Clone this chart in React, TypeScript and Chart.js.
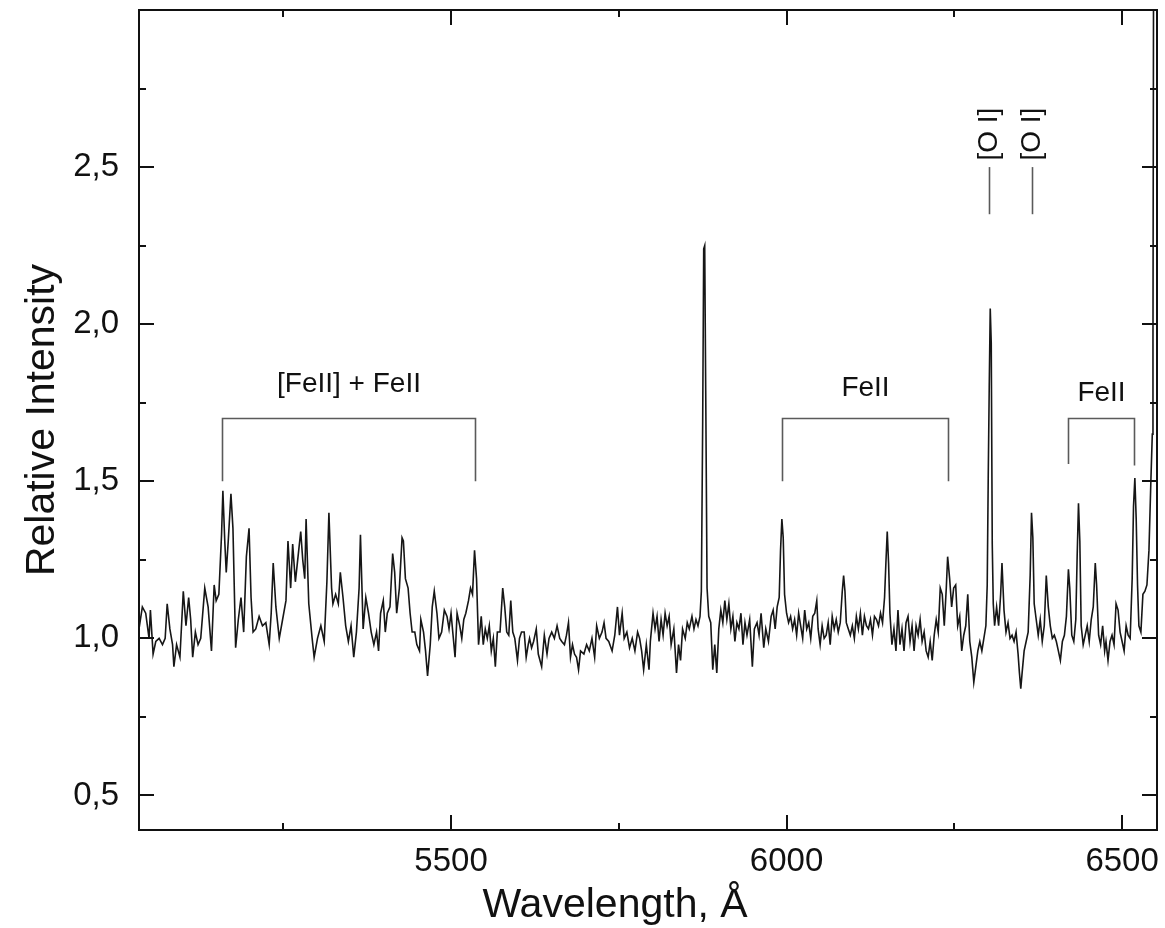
import { useEffect, useRef } from "react";
import { Chart, registerables } from "chart.js";

Chart.register(...registerables);

const FONT = '"Liberation Sans", Arial, Helvetica, sans-serif';

// Spectrum: wavelength (Å) and relative intensity
const WAVELENGTH = [
  5035, 5040, 5045, 5050, 5052, 5056, 5060, 5065, 5070, 5074,
  5077, 5081, 5085, 5087, 5091, 5096, 5101, 5105, 5109, 5112,
  5115, 5119, 5123, 5127, 5133, 5138, 5143, 5147, 5150, 5154,
  5158, 5160, 5163, 5165, 5168, 5172, 5175, 5179, 5183, 5187,
  5191, 5195, 5199, 5202, 5205, 5209, 5214, 5219, 5224, 5229,
  5232, 5235, 5239, 5244, 5249, 5254, 5257, 5261, 5264, 5268,
  5273, 5276, 5279, 5282, 5284, 5288, 5293, 5296, 5301, 5306,
  5311, 5315, 5318, 5322, 5324, 5328, 5332, 5335, 5339, 5343,
  5347, 5351, 5355, 5359, 5363, 5365, 5369, 5373, 5377, 5381,
  5385, 5389, 5392, 5395, 5399, 5402, 5405, 5409, 5413, 5416,
  5419, 5423, 5427, 5429, 5432, 5436, 5439, 5442, 5446, 5449,
  5453, 5455, 5459, 5462, 5465, 5469, 5472, 5475, 5479, 5482,
  5486, 5490, 5494, 5497, 5500, 5503, 5506, 5509, 5513, 5516,
  5519, 5522, 5526, 5529, 5532, 5535, 5538, 5541, 5545, 5548,
  5551, 5554, 5557, 5560, 5563, 5566, 5569, 5573, 5577, 5580,
  5583, 5586, 5589, 5592, 5595, 5599, 5602, 5605, 5609, 5612,
  5615, 5617, 5620, 5623, 5627, 5630, 5635, 5639, 5643, 5646,
  5650, 5654, 5658, 5662, 5665, 5669, 5672, 5675, 5678, 5681,
  5684, 5687, 5690, 5693, 5698, 5702, 5706, 5710, 5714, 5717,
  5721, 5725, 5728, 5731, 5735, 5740, 5744, 5748, 5751, 5755,
  5758, 5762, 5766, 5770, 5774, 5778, 5781, 5784, 5787, 5791,
  5795, 5797, 5801, 5804, 5807, 5810, 5813, 5816, 5819, 5822,
  5825, 5828, 5832, 5836, 5839, 5842, 5845, 5849, 5852, 5855,
  5859, 5862, 5865, 5868, 5871, 5873, 5875, 5876.5, 5878, 5879.5,
  5881.5, 5884, 5887, 5890, 5893, 5896, 5899, 5902, 5905, 5908,
  5911, 5914, 5917, 5920, 5923, 5926, 5929, 5932, 5935, 5938,
  5941, 5945, 5949, 5952, 5956, 5959, 5962, 5966, 5969, 5973,
  5977, 5980, 5983, 5986, 5989, 5991, 5993, 5995, 5997, 6000,
  6003, 6006, 6009, 6012, 6015, 6018, 6021, 6024, 6027, 6030,
  6033, 6036, 6039, 6042, 6045, 6047, 6050, 6053, 6056, 6059,
  6062, 6065, 6068, 6071, 6074, 6077, 6080, 6083, 6085, 6087,
  6089, 6092, 6095, 6098, 6101, 6104, 6107, 6110, 6113, 6116,
  6119, 6122, 6125, 6128, 6131, 6134, 6137, 6140, 6143, 6146,
  6148, 6150, 6152, 6154, 6157, 6160, 6163, 6166, 6169, 6172,
  6175, 6178, 6181, 6184, 6187, 6190, 6193, 6196, 6199, 6202,
  6205, 6208, 6211, 6214, 6217, 6220, 6223, 6226, 6229, 6232,
  6235, 6238, 6240, 6243, 6246, 6249, 6252, 6255, 6258, 6261,
  6264, 6267, 6270, 6273, 6276, 6279, 6282, 6285, 6288, 6291,
  6294, 6297, 6299, 6300.5, 6302, 6303.5, 6305, 6306.5, 6308, 6310,
  6313, 6316, 6319, 6321, 6324, 6327, 6330, 6333, 6336, 6339,
  6342, 6345, 6347, 6349, 6351, 6354, 6357, 6360, 6363, 6365,
  6367, 6369, 6372, 6375, 6378, 6381, 6384, 6387, 6390, 6393,
  6396, 6399, 6402, 6405, 6408, 6411, 6414, 6417, 6420, 6422,
  6425, 6428, 6431, 6433, 6435, 6437, 6439, 6442, 6445, 6448,
  6451, 6454, 6457, 6460, 6462, 6465, 6468, 6471, 6474, 6476,
  6479, 6482, 6485, 6488, 6491, 6494, 6497, 6500, 6503, 6506,
  6509, 6512, 6515, 6517, 6519, 6521, 6523, 6525, 6528, 6531,
  6534, 6537, 6540, 6543, 6545, 6546, 6547, 6555,
];

const INTENSITY = [
  1.03, 1.10, 1.08, 1.00, 1.09, 0.95, 0.99, 1.00, 0.98, 1.00,
  1.11, 1.03, 0.98, 0.91, 0.98, 0.94, 1.15, 1.04, 1.13, 1.06,
  0.94, 1.02, 0.98, 1.00, 1.16, 1.10, 0.96, 1.17, 1.12, 1.14,
  1.33, 1.47, 1.30, 1.21, 1.31, 1.46, 1.35, 0.97, 1.06, 1.13,
  1.02, 1.26, 1.35, 1.13, 1.02, 1.03, 1.07, 1.04, 1.05, 0.98,
  1.08, 1.24, 1.10, 1.00, 1.06, 1.12, 1.31, 1.16, 1.30, 1.18,
  1.28, 1.34, 1.25, 1.19, 1.38, 1.11, 1.00, 0.94, 1.00, 1.04,
  0.99, 1.18, 1.40, 1.16, 1.11, 1.14, 1.11, 1.21, 1.13, 1.04,
  0.99, 1.04, 0.94, 1.02, 1.16, 1.33, 1.03, 1.13, 1.08, 1.02,
  0.98, 1.02, 0.96, 1.08, 1.12, 1.02, 1.08, 1.10, 1.27, 1.21,
  1.08, 1.16, 1.32, 1.31, 1.19, 1.16, 1.08, 1.02, 1.02, 0.98,
  0.96, 1.06, 1.02, 0.96, 0.88, 0.98, 1.10, 1.15, 1.08, 1.00,
  1.02, 1.09, 1.07, 1.03, 1.08, 1.01, 0.94, 1.08, 1.04, 1.00,
  1.06, 1.08, 1.12, 1.16, 1.14, 1.28, 1.19, 0.98, 1.07, 0.98,
  1.03, 1.00, 1.04, 0.96, 1.00, 0.91, 1.02, 1.02, 1.16, 1.10,
  1.02, 1.01, 1.12, 1.02, 1.00, 0.93, 1.00, 1.02, 1.02, 0.94,
  0.98, 1.00, 0.97, 0.99, 1.03, 0.95, 0.91, 1.01, 0.95, 1.00,
  1.02, 1.00, 1.04, 1.00, 0.99, 0.98, 1.01, 1.05, 0.94, 0.98,
  0.95, 0.94, 0.90, 0.96, 0.95, 0.98, 0.96, 1.00, 0.94, 1.04,
  1.00, 1.02, 1.05, 1.00, 0.99, 0.96, 1.01, 1.10, 1.01, 1.08,
  1.00, 1.02, 0.97, 1.00, 0.96, 1.02, 1.00, 0.96, 0.90, 0.98,
  0.90, 0.99, 1.08, 1.03, 1.07, 0.99, 1.06, 1.01, 1.08, 1.04,
  1.07, 0.98, 1.03, 0.89, 0.98, 0.93, 1.03, 1.00, 1.05, 1.03,
  1.07, 1.03, 1.06, 1.04, 1.07, 1.15, 1.69, 2.24, 2.25, 1.79,
  1.16, 1.07, 1.05, 0.90, 0.98, 0.89, 1.03, 1.09, 1.05, 1.12,
  1.06, 1.11, 1.03, 1.07, 0.99, 1.05, 1.03, 1.08, 0.98, 1.05,
  1.01, 1.06, 0.91, 1.03, 1.05, 1.01, 1.08, 0.97, 1.03, 0.99,
  1.07, 1.09, 1.03, 1.10, 1.13, 1.28, 1.38, 1.32, 1.14, 1.08,
  1.05, 1.07, 1.03, 1.06, 1.01, 1.08, 1.04, 1.00, 1.09, 1.03,
  1.05, 1.00, 1.07, 1.08, 1.12, 1.03, 0.98, 1.04, 1.00, 1.01,
  1.05, 0.98, 1.07, 1.03, 1.06, 1.02, 1.05, 1.15, 1.20, 1.15,
  1.05, 1.03, 1.01, 1.04, 1.00, 1.07, 1.03, 1.08, 1.01, 1.07,
  1.04, 1.03, 1.06, 1.01, 1.07, 1.06, 1.04, 1.08, 1.05, 1.13,
  1.24, 1.34, 1.24, 1.08, 0.98, 1.03, 0.96, 1.09, 0.98, 1.03,
  0.96, 1.05, 1.07, 0.99, 1.04, 0.96, 1.04, 1.01, 1.06, 0.99,
  1.02, 0.96, 0.94, 0.99, 0.93, 1.01, 1.06, 1.02, 1.16, 1.14,
  1.04, 1.16, 1.26, 1.19, 1.10, 1.16, 1.17, 1.04, 1.07, 0.96,
  1.01, 1.04, 1.14, 0.99, 0.94, 0.86, 0.91, 0.96, 0.99, 0.96,
  1.00, 1.04, 1.17, 1.51, 1.80, 2.05, 1.94, 1.30, 1.11, 1.04,
  1.10, 1.04, 1.14, 1.24, 1.09, 1.02, 1.05, 1.00, 1.01, 0.99,
  1.02, 0.95, 0.89, 0.84, 0.89, 0.96, 0.99, 1.02, 1.20, 1.40,
  1.32, 1.11, 1.06, 1.01, 1.06, 0.99, 1.04, 1.20, 1.10, 1.04,
  1.00, 1.01, 0.99, 0.96, 0.93, 0.99, 1.01, 1.07, 1.22, 1.16,
  1.01, 0.99, 1.06, 1.26, 1.43, 1.31, 1.04, 0.98, 1.01, 1.04,
  0.99, 1.06, 1.10, 1.24, 1.17, 1.01, 0.98, 1.04, 0.96, 0.99,
  0.93, 0.99, 1.01, 0.98, 1.11, 1.09, 1.02, 0.99, 0.96, 1.04,
  1.01, 1.00, 1.19, 1.42, 1.51, 1.38, 1.17, 1.04, 1.02, 1.14,
  1.15, 1.17, 1.28, 1.51, 1.65, 1.94, 3.30, 3.60,
];

// Axes
const X_RANGE = [5035, 6552];
const Y_RANGE = [0.39, 3.0];
const X_MAJOR = [5500, 6000, 6500];
const X_MINOR = [5250, 5750, 6250];
const Y_MAJOR = [0.5, 1.0, 1.5, 2.0, 2.5];
const Y_MINOR = [0.75, 1.25, 1.75, 2.25, 2.75];
const X_TITLE = "Wavelength, Å";
const Y_TITLE = "Relative Intensity";

// Line-group brackets (data coordinates)
const BRACKET_LABELS = ["[FeII] + FeII", "FeII", "FeII"];
const BRACKET_START = [5159, 5993, 6419];
const BRACKET_END = [5536, 6240, 6517];
const BRACKET_TOP = [1.7, 1.7, 1.7];
const BRACKET_START_FOOT = [1.5, 1.5, 1.555];
const BRACKET_END_FOOT = [1.5, 1.5, 1.55];
const BRACKET_LABEL_BASE = [1.785, 1.77, 1.755];

// Single-line markers
const MARKER_LABELS = ["[O I]", "[O I]"];
const MARKER_WAVELENGTH = [6302, 6366];
const MARKER_TOP = 2.5;
const MARKER_BOTTOM = 2.35;
const MARKER_LABEL_CENTER = 2.605;

export default function App() {
  const ref = useRef<HTMLCanvasElement>(null);

  useEffect(() => {
    const canvas = ref.current;
    if (!canvas) return;

    const decorPlugin = {
      id: "decor",
      afterDatasetsDraw(chart: any) {
        const { ctx, chartArea: a, scales } = chart;
        const xs = scales.x;
        const ys = scales.y;
        ctx.save();

        // brackets
        ctx.strokeStyle = "#5a5a5a";
        ctx.lineWidth = 1.6;
        ctx.font = `28px ${FONT}`;
        ctx.fillStyle = "#111";
        ctx.textAlign = "center";
        ctx.textBaseline = "alphabetic";
        BRACKET_LABELS.forEach((lab, i) => {
          const x0 = Math.round(xs.getPixelForValue(BRACKET_START[i])) + 0.5;
          const x1 = Math.round(xs.getPixelForValue(BRACKET_END[i])) + 0.5;
          const yt = Math.round(ys.getPixelForValue(BRACKET_TOP[i])) + 0.5;
          ctx.beginPath();
          ctx.moveTo(x0, ys.getPixelForValue(BRACKET_START_FOOT[i]));
          ctx.lineTo(x0, yt);
          ctx.lineTo(x1, yt);
          ctx.lineTo(x1, ys.getPixelForValue(BRACKET_END_FOOT[i]));
          ctx.stroke();
          ctx.fillText(lab, (x0 + x1) / 2, ys.getPixelForValue(BRACKET_LABEL_BASE[i]));
        });

        // [O I] markers
        MARKER_LABELS.forEach((lab, i) => {
          const x = Math.round(xs.getPixelForValue(MARKER_WAVELENGTH[i])) + 0.5;
          ctx.beginPath();
          ctx.moveTo(x, ys.getPixelForValue(MARKER_TOP));
          ctx.lineTo(x, ys.getPixelForValue(MARKER_BOTTOM));
          ctx.stroke();
          ctx.save();
          ctx.translate(x, ys.getPixelForValue(MARKER_LABEL_CENTER));
          ctx.rotate(-Math.PI / 2);
          ctx.textAlign = "center";
          ctx.textBaseline = "middle";
          ctx.fillText(lab, 0, 0);
          ctx.restore();
        });

        // frame
        ctx.strokeStyle = "#111";
        ctx.lineWidth = 2;
        ctx.strokeRect(a.left, a.top, a.right - a.left, a.bottom - a.top);

        // inward ticks on all four sides
        ctx.beginPath();
        const xTicks = (vals: number[], len: number) => {
          vals.forEach((v) => {
            const x = Math.round(xs.getPixelForValue(v));
            ctx.moveTo(x, a.bottom);
            ctx.lineTo(x, a.bottom - len);
            ctx.moveTo(x, a.top);
            ctx.lineTo(x, a.top + len);
          });
        };
        const yTicks = (vals: number[], len: number) => {
          vals.forEach((v) => {
            const y = Math.round(ys.getPixelForValue(v));
            ctx.moveTo(a.left, y);
            ctx.lineTo(a.left + len, y);
            ctx.moveTo(a.right, y);
            ctx.lineTo(a.right - len, y);
          });
        };
        xTicks(X_MAJOR, 15);
        xTicks(X_MINOR, 7);
        yTicks(Y_MAJOR, 15);
        yTicks(Y_MINOR, 7);
        ctx.stroke();

        // x-axis title
        ctx.fillStyle = "#111";
        ctx.font = `41px ${FONT}`;
        ctx.textAlign = "center";
        ctx.textBaseline = "alphabetic";
        ctx.fillText(X_TITLE, (a.left + a.right) / 2 - 33, 917);

        ctx.restore();
      },
    };

    const chart = new Chart(canvas, {
      type: "line",
      data: {
        datasets: [
          {
            data: WAVELENGTH.map((w, i) => ({ x: w, y: INTENSITY[i] })),
            borderColor: "#161616",
            borderWidth: 1.6,
            pointRadius: 0,
            tension: 0,
            fill: false,
          },
        ],
      },
      options: {
        animation: false,
        responsive: false,
        devicePixelRatio: 1,
        layout: { padding: { top: 10, right: 8, left: 0, bottom: 0 } },
        plugins: {
          legend: { display: false },
          tooltip: { enabled: false },
        },
        scales: {
          x: {
            type: "linear",
            min: X_RANGE[0],
            max: X_RANGE[1],
            afterBuildTicks: (s: any) => {
              s.ticks = X_MAJOR.map((v) => ({ value: v }));
            },
            afterFit: (s: any) => {
              s.height = 98;
              s.paddingLeft = 0;
              s.paddingRight = 0;
              s.paddingTop = 0;
              s.paddingBottom = 0;
            },
            grid: { display: false, drawTicks: false },
            border: { display: false },
            ticks: {
              autoSkip: false,
              maxRotation: 0,
              padding: 12,
              color: "#111",
              font: { family: FONT, size: 33 },
              callback: (v: any) => String(v),
            },
          },
          y: {
            type: "linear",
            min: Y_RANGE[0],
            max: Y_RANGE[1],
            afterBuildTicks: (s: any) => {
              s.ticks = Y_MAJOR.map((v) => ({ value: v }));
            },
            afterFit: (s: any) => {
              s.width = 139;
              s.paddingLeft = 0;
              s.paddingRight = 0;
              s.paddingTop = 0;
              s.paddingBottom = 0;
            },
            grid: { display: false, drawTicks: false },
            border: { display: false },
            ticks: {
              autoSkip: false,
              padding: 20,
              color: "#111",
              font: { family: FONT, size: 33 },
              callback: (v: any) => Number(v).toFixed(1).replace(".", ","),
            },
            title: {
              display: true,
              text: Y_TITLE,
              color: "#111",
              font: { family: FONT, size: 41 },
              padding: { top: 18, bottom: 0 },
            },
          },
        },
      },
      plugins: [decorPlugin],
    } as any);

    return () => chart.destroy();
  }, []);

  return (
    <div style={{ position: "absolute", left: 0, top: 0, width: 1165, height: 928, background: "#fff" }}>
      <canvas ref={ref} width={1165} height={928} style={{ display: "block" }} />
    </div>
  );
}
